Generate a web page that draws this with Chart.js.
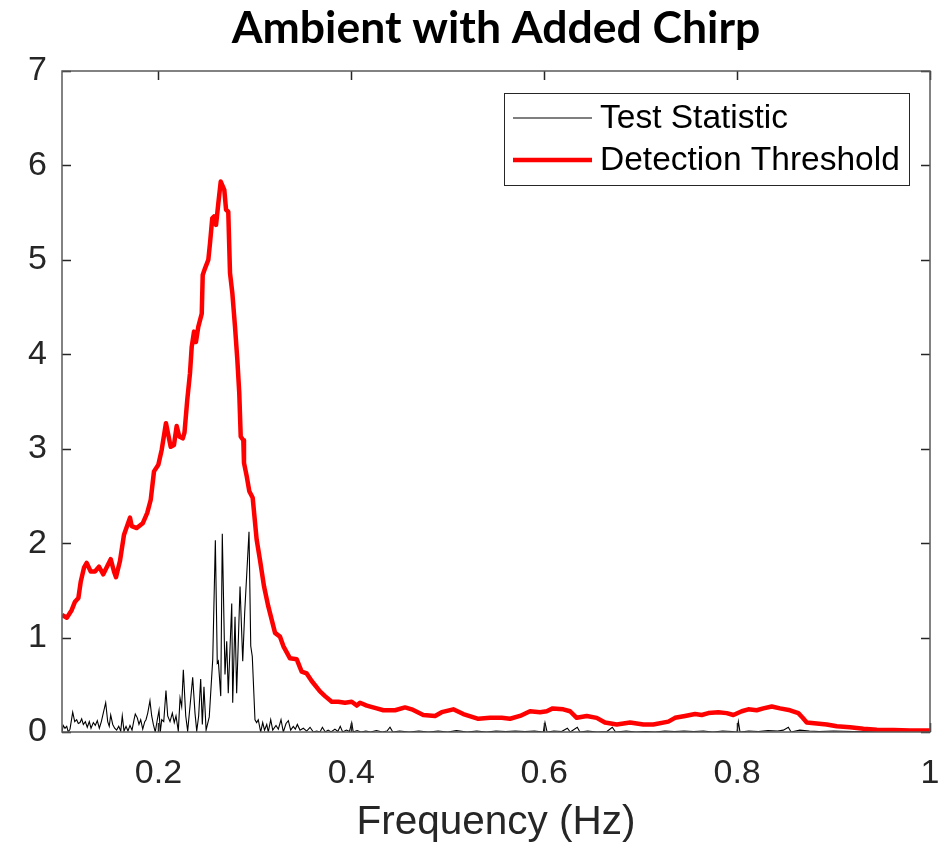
<!DOCTYPE html>
<html>
<head>
<meta charset="utf-8">
<script src="https://cdn.jsdelivr.net/npm/chart.js@4.4.1/dist/chart.umd.min.js"></script>
<style>
  html, body { margin: 0; padding: 0; background: #ffffff; }
  #wrap { width: 940px; height: 847px; }
</style>
</head>
<body>
<div id="wrap"><canvas id="c" width="940" height="847"></canvas></div>
<script>
// ---------- DATA ----------
const titleText = "Ambient with Added Chirp";
const xAxisLabel = "Frequency (Hz)";
const seriesNames = ["Test Statistic", "Detection Threshold"];
const xTickValues = [0.2, 0.4, 0.6, 0.8, 1.0];
const xTickLabels = ["0.2", "0.4", "0.6", "0.8", "1"];
const yTickValues = [0, 1, 2, 3, 4, 5, 6, 7];

const freqThr = [0.100,0.105,0.110,0.1135,0.117,0.1194,0.1228,0.1256,0.1298,0.1342,0.1384,0.1428,0.1505,0.1539,0.156,0.1601,0.1643,0.1705,0.1723,0.1775,0.1837,0.1884,0.1920,0.1954,0.1999,0.2034,0.2078,0.2127,0.2161,0.2189,0.2216,0.2252,0.2270,0.2299,0.2327,0.2345,0.2369,0.2389,0.2413,0.2449,0.2459,0.2483,0.2517,0.2535,0.2558,0.2576,0.2597,0.2621,0.2646,0.2666,0.2683,0.2701,0.2724,0.2742,0.2766,0.2794,0.2818,0.2838,0.2853,0.2880,0.2887,0.2915,0.2942,0.2977,0.3018,0.3053,0.3095,0.3139,0.3174,0.3209,0.3260,0.3295,0.3364,0.3434,0.3485,0.3537,0.3589,0.3675,0.3727,0.3797,0.3865,0.3934,0.4004,0.4056,0.4090,0.4160,0.4263,0.4332,0.4453,0.4557,0.4626,0.4746,0.4868,0.4937,0.5057,0.5161,0.5317,0.5438,0.5559,0.5645,0.5749,0.5853,0.5956,0.6026,0.6088,0.6198,0.6268,0.6337,0.6441,0.6544,0.6630,0.6752,0.6890,0.7028,0.7131,0.7287,0.7356,0.7460,0.7564,0.7633,0.7702,0.7805,0.7892,0.7961,0.8048,0.8116,0.8203,0.8272,0.8359,0.8445,0.8549,0.8635,0.8680,0.8722,0.8826,0.8929,0.9033,0.9171,0.9309,0.9448,0.9620,0.9793,1.000];
const threshold = [1.24,1.21,1.29,1.38,1.42,1.59,1.74,1.79,1.70,1.70,1.75,1.67,1.83,1.70,1.64,1.81,2.09,2.27,2.18,2.16,2.21,2.32,2.46,2.76,2.83,2.99,3.27,3.02,3.04,3.24,3.13,3.11,3.17,3.52,3.80,4.08,4.24,4.13,4.29,4.43,4.84,4.91,5.00,5.18,5.44,5.46,5.37,5.60,5.83,5.78,5.74,5.53,5.51,4.86,4.65,4.29,3.94,3.59,3.13,3.09,2.85,2.71,2.55,2.48,2.04,1.82,1.54,1.33,1.19,1.05,1.01,0.91,0.78,0.77,0.64,0.62,0.54,0.43,0.38,0.32,0.32,0.31,0.32,0.28,0.31,0.28,0.25,0.23,0.23,0.26,0.24,0.18,0.17,0.21,0.24,0.19,0.14,0.15,0.15,0.14,0.17,0.22,0.21,0.22,0.25,0.24,0.22,0.15,0.17,0.15,0.10,0.08,0.10,0.08,0.08,0.11,0.15,0.17,0.19,0.18,0.20,0.21,0.20,0.18,0.22,0.24,0.23,0.25,0.27,0.25,0.23,0.20,0.15,0.10,0.09,0.08,0.06,0.05,0.035,0.025,0.02,0.015,0.015];

const freqTS = [0.1000,0.1013,0.1031,0.1049,0.1065,0.1083,0.1111,0.1132,0.1152,0.1169,0.1187,0.1204,0.1221,0.1242,0.1262,0.1283,0.1301,0.1325,0.1345,0.1366,0.1387,0.1408,0.1428,0.1453,0.1474,0.1490,0.1505,0.1526,0.1546,0.1567,0.1588,0.1609,0.1625,0.1643,0.1664,0.1684,0.1705,0.1726,0.1747,0.1760,0.1781,0.1798,0.1816,0.1837,0.1858,0.1871,0.1889,0.1912,0.1930,0.1947,0.1967,0.1988,0.2006,0.2019,0.2034,0.2055,0.2078,0.2096,0.2120,0.2144,0.2164,0.2182,0.2206,0.2224,0.2241,0.2258,0.2283,0.2303,0.2327,0.2355,0.2379,0.2397,0.2417,0.2438,0.2455,0.2472,0.2494,0.2527,0.2563,0.2590,0.2610,0.2621,0.2646,0.2662,0.2690,0.2708,0.2724,0.2760,0.2770,0.2794,0.2811,0.2846,0.2874,0.2894,0.2939,0.2957,0.2973,0.3001,0.3018,0.3035,0.3060,0.3081,0.3100,0.3123,0.3139,0.3164,0.3185,0.3219,0.3243,0.3271,0.3295,0.3323,0.3347,0.3371,0.3398,0.3419,0.3440,0.3468,0.3502,0.3537,0.3572,0.3606,0.3641,0.3675,0.3700,0.3730,0.3760,0.3790,0.3830,0.3860,0.3885,0.3910,0.3950,0.3980,0.4004,0.4020,0.4060,0.4100,0.4150,0.4200,0.4260,0.4320,0.4370,0.4401,0.4430,0.4500,0.4600,0.4700,0.4800,0.4900,0.5000,0.5090,0.5200,0.5300,0.5400,0.5500,0.5600,0.5700,0.5800,0.5900,0.5990,0.6008,0.6030,0.6100,0.6180,0.6240,0.6270,0.6343,0.6370,0.6450,0.6550,0.6650,0.6706,0.6740,0.6850,0.6950,0.7050,0.7150,0.7250,0.7350,0.7450,0.7550,0.7650,0.7750,0.7850,0.7950,0.8000,0.8013,0.8030,0.8120,0.8220,0.8320,0.8420,0.8480,0.8531,0.8560,0.8650,0.8750,0.8850,0.9000,0.9200,0.9400,0.9600,0.9800,1.0000];
const testStat = [0,0.07,0.04,0.06,0,0.03,0.21,0.11,0.13,0.09,0.10,0.14,0.08,0.11,0.05,0.11,0.04,0.10,0.07,0.12,0.04,0.11,0.20,0.31,0.11,0.06,0.18,0.08,0.04,0.02,0.06,0.01,0.17,0.01,0.06,0.01,0.07,0.02,0.13,0.19,0.15,0.08,0.13,0.03,0.11,0.13,0.20,0.33,0.17,0.08,0,0.13,0.23,0,0.13,0.11,0.44,0.17,0.11,0.20,0.10,0.17,0.01,0.36,0.27,0.66,0.17,0.01,0.27,0.58,0.20,0.01,0.17,0.56,0.08,0.48,0.02,0.16,0.77,2.03,0.73,0.75,0.38,2.10,0.61,0.96,0.41,1.36,0.31,1.22,0.41,1.54,0.75,1.26,2.12,0.91,0.80,0.13,0.10,0.13,0,0.10,0.02,0.08,0,0.13,0.02,0.07,0.03,0.13,0,0.09,0.12,0.02,0.06,0.03,0.08,0.02,0.04,0.01,0.05,0,0.01,0,0.05,0,0.02,0,0.03,0.005,0.06,0,0.02,0.005,0.10,0,0.015,0,0.01,0,0.015,0,0.01,0.05,0,0.01,0,0.01,0,0.01,0,0.015,0,0.01,0,0.01,0.005,0.01,0.005,0.01,0,0.10,0,0.01,0.005,0.04,0,0.05,0,0.01,0,0.005,0.05,0,0.01,0,0.005,0,0.01,0.005,0.01,0.005,0.01,0,0.01,0.005,0,0.11,0,0.01,0.005,0.015,0.01,0.02,0.05,0,0.02,0.01,0.005,0.01,0.005,0.005,0.005,0.005,0.005];

// ---------- CHART ----------
const AXIS_FONT = "'Liberation Sans', Arial, sans-serif";
const TEXT_COL = '#262626';

const framePlugin = {
  id: 'framePlugin',
  afterDatasetsDraw(chart) {
    const ctx = chart.ctx;
    const a = chart.chartArea;
    const xs = chart.scales.x, ys = chart.scales.y;
    ctx.save();
    ctx.strokeStyle = TEXT_COL;
    ctx.lineWidth = 1.5;
    const tl = 9;
    ctx.beginPath();
    xTickValues.forEach(v => {
      const px = Math.round(xs.getPixelForValue(v)) + 0.5;
      ctx.moveTo(px, a.bottom); ctx.lineTo(px, a.bottom - tl);
      ctx.moveTo(px, a.top); ctx.lineTo(px, a.top + tl);
    });
    yTickValues.forEach(v => {
      const py = Math.round(ys.getPixelForValue(v)) + 0.5;
      ctx.moveTo(a.left, py); ctx.lineTo(a.left + tl, py);
      ctx.moveTo(a.right, py); ctx.lineTo(a.right - tl, py);
    });
    ctx.stroke();
    ctx.strokeStyle = '#5a5a5a';
    ctx.lineWidth = 1.5;
    ctx.strokeRect(a.left, a.top, a.right - a.left, a.bottom - a.top);
    ctx.restore();
  },
  afterDraw(chart) {
    const ctx = chart.ctx;
    ctx.save();
    const bx = 504, by = 93, bw = 405, bh = 92;
    ctx.fillStyle = '#ffffff';
    ctx.fillRect(bx, by, bw, bh);
    ctx.strokeStyle = '#262626';
    ctx.lineWidth = 1;
    ctx.strokeRect(bx + 0.5, by + 0.5, bw, bh);
    const ds = chart.data.datasets;
    const rows = [118, 160];
    ds.forEach((d, i) => {
      ctx.strokeStyle = d.borderColor;
      ctx.lineWidth = d.borderWidth;
      ctx.beginPath();
      ctx.moveTo(513, rows[i]); ctx.lineTo(592, rows[i]);
      ctx.stroke();
      ctx.fillStyle = '#000000';
      ctx.font = "33.5px " + AXIS_FONT;
      ctx.textBaseline = 'middle';
      ctx.textAlign = 'left';
      ctx.fillText(d.label, 600, rows[i] + 1);
    });
    ctx.restore();
  }
};

new Chart(document.getElementById('c'), {
  type: 'line',
  data: {
    datasets: [
      {
        label: seriesNames[0],
        data: freqTS.map((f, i) => ({ x: f, y: testStat[i] })),
        borderColor: '#000000',
        borderWidth: 1.1,
        pointRadius: 0,
        tension: 0,
        order: 1
      },
      {
        label: seriesNames[1],
        data: freqThr.map((f, i) => ({ x: f, y: threshold[i] })),
        borderColor: '#ff0000',
        borderWidth: 4.5,
        pointRadius: 0,
        tension: 0,
        borderJoinStyle: 'round',
        order: 0
      }
    ]
  },
  options: {
    responsive: false,
    animation: false,
    devicePixelRatio: 1,
    layout: { padding: { left: 0, right: 10, top: 0, bottom: 0 } },
    plugins: {
      legend: { display: false },
      tooltip: { enabled: false },
      title: {
        display: true,
        fullSize: false,
        text: titleText,
        color: '#000000',
        font: { family: "Lato, 'Open Sans', sans-serif", size: 44.5, weight: 'bold', lineHeight: 1.2 },
        padding: { top: 2, bottom: 15.6 }
      }
    },
    scales: {
      x: {
        type: 'linear',
        min: 0.1,
        max: 1.0,
        afterBuildTicks: s => { s.ticks = xTickValues.map(v => ({ value: v })); },
        afterFit: s => { s.height = 115; s.paddingLeft = 0; s.paddingRight = 0; },
        grid: { display: false, drawTicks: false },
        border: { display: false },
        ticks: {
          padding: 21,
          color: TEXT_COL,
          font: { family: AXIS_FONT, size: 34 },
          maxRotation: 0,
          autoSkip: false,
          callback: (v) => { const i = xTickValues.findIndex(t => Math.abs(t - v) < 1e-9); return i >= 0 ? xTickLabels[i] : ''; }
        },
        title: {
          display: true,
          text: xAxisLabel,
          color: TEXT_COL,
          font: { family: AXIS_FONT, size: 40.5, lineHeight: 1.2 },
          padding: { top: 0, bottom: 0 }
        }
      },
      y: {
        type: 'linear',
        min: 0,
        max: 7,
        afterBuildTicks: s => { s.ticks = yTickValues.map(v => ({ value: v })); },
        afterFit: s => { s.width = 62; s.paddingTop = 0; s.paddingBottom = 0; },
        grid: { display: false, drawTicks: false },
        border: { display: false },
        ticks: {
          padding: 15,
          color: TEXT_COL,
          font: { family: AXIS_FONT, size: 34 },
          autoSkip: false,
          callback: v => String(v)
        }
      }
    }
  },
  plugins: [framePlugin]
});
</script>
</body>
</html>
